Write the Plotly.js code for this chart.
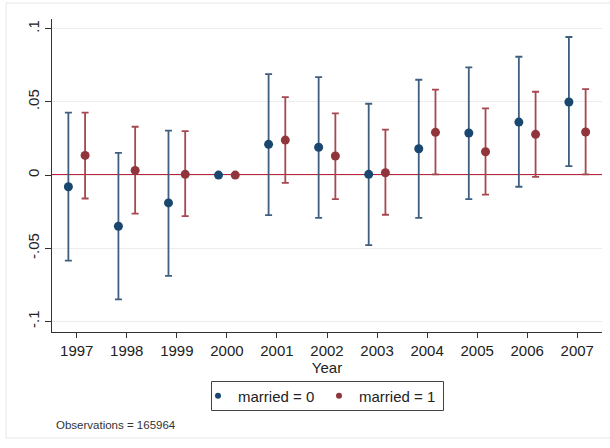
<!DOCTYPE html>
<html>
<head>
<meta charset="utf-8">
<script src="https://cdn.plot.ly/plotly-3.0.1.min.js"></script>
<style>html,body{margin:0;padding:0;background:#fff;}</style>
</head>
<body>
<div id="chart" style="width:610px;height:448px;"></div>
<script>
// Data
const years = [1997, 1998, 1999, 2000, 2001, 2002, 2003, 2004, 2005, 2006, 2007];
const tickLabels = ["1997","1998","1999","2000","2001","2002","2003","2004","2005","2006","2007"];
const yTickVals = [-0.1, -0.05, 0, 0.05, 0.1];
const yTickText = ["-.1", "-.05", "0", ".05", ".1"];
const seriesNames = ["married = 0", "married = 1"];

// married = 0
const est0 = [-0.008, -0.035, -0.019, 0, 0.021, 0.019, 0.0005, 0.018, 0.0287, 0.0362, 0.0499];
const lo0  = [-0.0585, -0.0849, -0.0688, null, -0.0273, -0.0292, -0.0478, -0.0292, -0.0164, -0.008, 0.0061];
const hi0  = [0.0426, 0.0152, 0.0303, null, 0.069, 0.0669, 0.0487, 0.0651, 0.0736, 0.0808, 0.0943];

// married = 1
const est1 = [0.0134, 0.0032, 0.0005, 0, 0.0239, 0.013, 0.0016, 0.0292, 0.0159, 0.0278, 0.0294];
const lo1  = [-0.016, -0.0264, -0.028, null, -0.0053, -0.0164, -0.0271, 0.0005, -0.0134, -0.0012, 0.0005];
const hi1  = [0.0426, 0.033, 0.030, null, 0.0533, 0.0421, 0.031, 0.0583, 0.0456, 0.0569, 0.0587];

const shift = 0.167;
const plus  = (est, hi) => est.map((e, i) => hi[i] === null ? NaN : hi[i] - e);
const minus = (est, lo) => est.map((e, i) => lo[i] === null ? NaN : e - lo[i]);

const font = "Liberation Sans, Arial, Helvetica, sans-serif";
const colors = ["#1a476f", "#90353b"];

const traces = [
  {
    type: "scatter", mode: "markers", name: seriesNames[0], showlegend: false,
    x: years.map(y => y - shift), y: est0,
    marker: {color: colors[0], size: 9},
    error_y: {type: "data", symmetric: false, array: plus(est0, hi0), arrayminus: minus(est0, lo0),
              color: "#3f5f80", thickness: 1.8, width: 3.5}
  },
  {
    type: "scatter", mode: "markers", name: seriesNames[1], showlegend: false,
    x: years.map(y => y + shift), y: est1,
    marker: {color: colors[1], size: 9},
    error_y: {type: "data", symmetric: false, array: plus(est1, hi1), arrayminus: minus(est1, lo1),
              color: "#a5484f", thickness: 1.8, width: 3.5}
  },
  // legend entries (smaller legend symbols, as in the original)
  {type: "scatter", mode: "markers", name: seriesNames[0], x: [null], y: [null],
   marker: {color: colors[0], size: 6}, showlegend: true},
  {type: "scatter", mode: "markers", name: seriesNames[1], x: [null], y: [null],
   marker: {color: colors[1], size: 6}, showlegend: true}
];

const px = v => (v - 52) / 550;      // pixel -> paper x
const py = v => (332 - v) / 313;     // pixel -> paper y

const layout = {
  width: 610, height: 448,
  margin: {l: 52, r: 8, t: 19, b: 116},
  paper_bgcolor: "#ffffff", plot_bgcolor: "#ffffff",
  font: {family: font, size: 15, color: "#222"},
  showlegend: true,
  legend: {
    orientation: "h", x: px(198), xanchor: "left", y: py(396), yanchor: "middle",
    borderwidth: 0, bgcolor: "rgba(0,0,0,0)", font: {size: 15, color: "#222"},
    entrywidth: 76, entrywidthmode: "pixels"
  },
  xaxis: {
    range: [1996.506, 2007.494], tickvals: years, ticktext: tickLabels,
    showgrid: false, zeroline: false, showline: true, linecolor: "#333", linewidth: 1,
    ticks: "outside", ticklen: 5, tickcolor: "#333",
    tickfont: {size: 15, color: "#222"},
    title: {text: "Year", font: {size: 15, color: "#222"}, standoff: 0}
  },
  yaxis: {
    range: [-0.1072, 0.1066], tickvals: yTickVals, ticktext: yTickText,
    showgrid: true, gridcolor: "#ececec", gridwidth: 1, zeroline: false,
    showline: true, linecolor: "#333", linewidth: 1,
    ticks: "outside", ticklen: 6, tickcolor: "#333", tickangle: -90,
    tickfont: {size: 15, color: "#222"}
  },
  shapes: [
    {type: "line", xref: "paper", yref: "y", x0: 0, x1: 1, y0: 0, y1: 0,
     line: {color: "#bf1f3c", width: 2}, layer: "below"},
    {type: "rect", xref: "paper", yref: "paper",
     x0: px(6), x1: px(612), y0: py(438), y1: py(3),
     line: {color: "#e6e6e6", width: 1}, fillcolor: "rgba(0,0,0,0)", layer: "below"},
    // legend frame
    {type: "rect", xref: "paper", yref: "paper",
     x0: px(211.5), x1: px(443.5), y0: py(410.5), y1: py(381.5),
     line: {color: "#444", width: 1}, fillcolor: "rgba(0,0,0,0)"}
  ],
  annotations: [
    {text: "Observations = 165964", xref: "paper", yref: "paper",
     x: px(54), y: py(425), xanchor: "left", yanchor: "middle",
     showarrow: false, font: {size: 11.5, color: "#333"}}
  ]
};

Plotly.newPlot("chart", traces, layout, {displayModeBar: false, staticPlot: true});
</script>
</body>
</html>
